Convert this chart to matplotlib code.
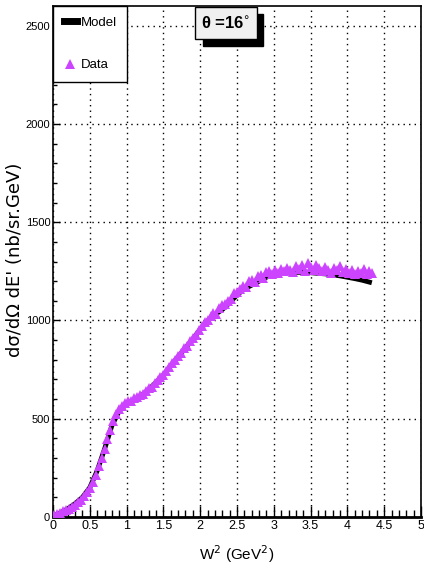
import matplotlib
matplotlib.use("Agg")
import matplotlib.pyplot as plt
from matplotlib.patches import Rectangle
from matplotlib.lines import Line2D
from matplotlib.ticker import MultipleLocator

plt.rcParams['font.family'] = ['Liberation Sans Narrow', 'Liberation Sans', 'DejaVu Sans']

# model curve
model_w2 = [0.0, 0.1, 0.2, 0.3, 0.4, 0.5, 0.6, 0.7, 0.8, 0.9, 1.0, 1.1, 1.2, 1.3, 1.4,
            1.5, 1.6, 1.7, 1.8, 1.9, 2.0, 2.1, 2.2, 2.3, 2.4, 2.5, 2.6, 2.7, 2.8, 2.9,
            3.0, 3.1, 3.2, 3.3, 3.4, 3.5, 3.6, 3.7, 3.8, 3.9, 4.0, 4.1, 4.2, 4.3]
model_xs = [5, 22, 42, 68, 100, 150, 235, 345, 465, 540, 575, 598, 618, 648, 685,
            722, 770, 815, 860, 905, 955, 998, 1030, 1055, 1090, 1130, 1160, 1180, 1200, 1220,
            1235, 1240, 1243, 1245, 1245, 1243, 1240, 1237, 1232, 1227, 1220, 1213, 1205, 1195]

# data points
data_w2 = [0.02, 0.06, 0.10, 0.14, 0.18, 0.22, 0.26, 0.30, 0.34, 0.38, 0.42, 0.46, 0.50,
           0.54, 0.58, 0.62, 0.66, 0.70, 0.74, 0.78, 0.82, 0.86, 0.90, 0.94, 0.98, 1.02,
           1.06, 1.10, 1.14, 1.18, 1.22, 1.26, 1.30, 1.34, 1.38, 1.42, 1.46, 1.50, 1.54,
           1.58, 1.62, 1.66, 1.70, 1.74, 1.78, 1.82, 1.86, 1.90, 1.94, 1.98, 2.02, 2.06,
           2.10, 2.14, 2.18, 2.22, 2.26, 2.30, 2.34, 2.38, 2.42, 2.46, 2.50, 2.54, 2.58,
           2.62, 2.66, 2.70, 2.74, 2.78, 2.82, 2.86, 2.90, 2.94, 2.98, 3.02, 3.06, 3.10,
           3.14, 3.18, 3.22, 3.26, 3.30, 3.34, 3.38, 3.42, 3.46, 3.50, 3.54, 3.58, 3.62,
           3.66, 3.70, 3.74, 3.78, 3.82, 3.86, 3.90, 3.94, 3.98, 4.02, 4.06, 4.10, 4.14,
           4.18, 4.22, 4.26, 4.30, 4.34]
data_xs = [8, 15, 20, 28, 35, 40, 50, 62, 75, 88, 105, 125, 148,
           180, 215, 262, 300, 348, 395, 445, 490, 525, 548, 565, 580, 588,
           592, 605, 610, 622, 628, 640, 655, 662, 682, 695, 712, 725, 742,
           762, 785, 800, 820, 835, 858, 870, 895, 912, 928, 950, 972, 990,
           1002, 1025, 1040, 1035, 1062, 1078, 1082, 1100, 1108, 1140, 1145, 1162, 1175,
           1170, 1200, 1205, 1195, 1225, 1232, 1218, 1245, 1250, 1238, 1255, 1242, 1262,
           1250, 1268, 1258, 1245, 1275, 1262, 1280, 1252, 1290, 1270, 1258, 1282, 1266,
           1250, 1272, 1258, 1240, 1268, 1255, 1278, 1248, 1262, 1240, 1258, 1235, 1252,
           1242, 1260, 1238, 1250, 1240]

W, H = 424, 580
fig = plt.figure(figsize=(W / 100, H / 100), dpi=100)
ax = fig.add_axes([53 / W, (H - 517) / H, (421 - 53) / W, (517 - 6) / H])

ax.plot(model_w2, model_xs, color='black', lw=3.5, zorder=3)
ax.plot(data_w2, data_xs, linestyle='none', marker='^', markersize=7,
        color='#cc44ff', markeredgewidth=0, zorder=4)

ax.set_xlim(0, 5)
ax.set_ylim(0, 2600)
ax.xaxis.set_major_locator(MultipleLocator(0.5))
ax.xaxis.set_minor_locator(MultipleLocator(0.1))
ax.yaxis.set_major_locator(MultipleLocator(500))
ax.yaxis.set_minor_locator(MultipleLocator(100))
ax.set_xticks([0, 0.5, 1, 1.5, 2, 2.5, 3, 3.5, 4, 4.5, 5])
ax.set_xticklabels(['0', '0.5', '1', '1.5', '2', '2.5', '3', '3.5', '4', '4.5', '5'])
ax.tick_params(which='major', axis='x', direction='in', length=8, width=1, labelsize=9, pad=2)
ax.tick_params(which='minor', axis='x', direction='in', length=5, width=1)
ax.tick_params(which='major', axis='y', direction='in', length=5, width=1, labelsize=8, pad=2)
ax.tick_params(which='minor', axis='y', direction='in', length=3, width=1)
ax.grid(True, which='major', color='black', linestyle=(0, (1, 3)), lw=1)
for s in ['left', 'top', 'right']:
    ax.spines[s].set_linewidth(1.2)
ax.spines['bottom'].set_linewidth(2)

ax.set_xlabel('W$^{2}$ (GeV$^{2}$)', fontsize=11, labelpad=8)
ax.set_ylabel("d\u03c3/d\u03a9 dE' (nb/sr.GeV)", fontsize=13,
              family=['DejaVu Sans'])
ax.yaxis.set_label_coords(-0.08, 0.503)

handles = [Line2D([], [], color='black', lw=5),
           Line2D([], [], linestyle='none', marker='^', color='#cc44ff',
                  markeredgewidth=0, markersize=7)]
leg = ax.legend(handles, ['Model', 'Data'], loc='upper left', bbox_to_anchor=(0, 1),
                borderaxespad=0, fancybox=False, edgecolor='black', framealpha=1,
                fontsize=9.5, handlelength=1.0, handletextpad=0.3, labelspacing=2.3,
                borderpad=0.8)
leg.get_frame().set_linewidth(1)
leg.set_zorder(10)

# title box with shadow
fig.patches.append(Rectangle((203 / W, 1 - 46 / H), 60 / W, 32 / H,
                             transform=fig.transFigure, color='black', zorder=5))
fig.patches.append(Rectangle((195 / W, 1 - 39 / H), 62 / W, 32 / H,
                             transform=fig.transFigure, facecolor='#f0f0f0',
                             edgecolor='black', lw=1, zorder=6))
fig.text(226 / W, 1 - 23 / H, '\u03b8 =16$^{\\circ}$', ha='center', va='center',
         fontsize=12, fontweight='bold', zorder=7)

fig.savefig('out.png', dpi=100)
